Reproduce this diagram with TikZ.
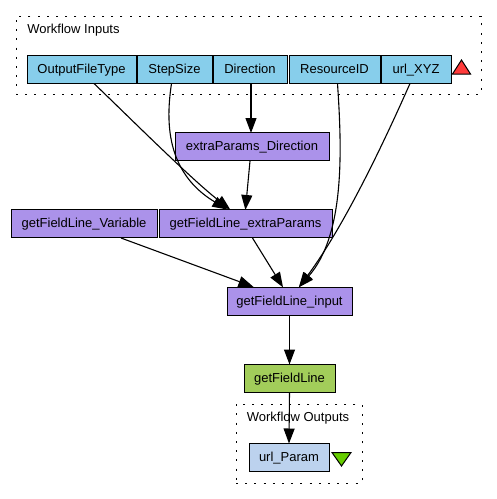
\documentclass[tikz,border=0pt]{standalone}
\usepackage{fontspec}
\setmainfont{Liberation Sans}
\usetikzlibrary{arrows.meta}
\definecolor{inputblue}{HTML}{87CEEB}
\definecolor{procpurple}{HTML}{AB92EA}
\definecolor{procgreen}{HTML}{A2CD5A}
\definecolor{outputblue}{HTML}{BCD2EE}
\definecolor{trired}{HTML}{FF3B3B}
\definecolor{trigreen}{HTML}{66CD00}
\begin{document}
\begin{tikzpicture}[x=1pt,y=-1pt]
    % Define style for boxes
    \tikzstyle{box} = [draw, rectangle, line width=1pt, inner sep=0pt, minimum height=28pt, text height=11.6pt, text depth=3pt, font=\fontsize{13}{15}\selectfont]
    \tikzstyle{inputbox} = [box, fill=inputblue]
    \tikzstyle{procbox} = [box, fill=procpurple]
    \tikzstyle{cluster} = [draw, rectangle, line width=1pt, inner sep=0pt, dash pattern=on 2pt off 7.2pt]
    \tikzstyle{title} = [inner sep=0pt, text height=11.6pt, text depth=3pt, font=\fontsize{13}{15}\selectfont]
    \tikzstyle{flow} = [black, line width=1.1pt, -{Triangle[length=15pt,width=11pt]}, shorten >=-1pt]
    \tikzstyle{tri} = [draw, line width=1pt, line join=miter]
    \useasboundingbox (0,0) rectangle (497,499);

    % Draw the clusters
    \node(inputs)[cluster, minimum width=465pt, minimum height=78pt] at (248.5,55) {};
    \node(outputs)[cluster, minimum width=126pt, minimum height=79pt] at (299,443.5) {};
    \node(inputstitle)[title] at (73.5,29) {Workflow Inputs};
    \node(outputstitle)[title] at (298,417) {Workflow Outputs};

    % Draw the input row
    \foreach \name/\cx/\w/\ctitle in {OutputFileType/81.5/109/OutputFileType,StepSize/174.5/75/StepSize,Direction/250/74/Direction,ResourceID/334.5/91/ResourceID,urlXYZ/416/70/url\_XYZ} {
        \node(\name)[inputbox, minimum width=\w pt] at (\cx,69) {\ctitle};
      }

    % Draw the processors
    \node(extraDirection)[procbox, minimum width=154pt] at (252,146.5) {extraParams\_Direction};
    \node(lineVariable)[procbox, minimum width=146pt] at (84,223.5) {getFieldLine\_Variable};
    \node(lineExtra)[procbox, minimum width=173pt] at (245.5,223.5) {getFieldLine\_extraParams};
    \node(lineInput)[procbox, minimum width=125pt] at (289.5,301) {getFieldLine\_input};
    \node(fieldLine)[box, fill=procgreen, minimum width=91pt] at (289.5,378) {getFieldLine};
    \node(urlParam)[box, fill=outputblue, minimum width=80pt] at (289,457) {url\_Param};

    % Draw the triangles
    \draw[tri, fill=trired] (452.5,74) -- (461.5,60) -- (470.5,74) -- cycle;
    \draw[tri, fill=trigreen] (332,452.5) -- (351,452.5) -- (341.5,466) -- cycle;

    % Draw the connections
    \draw[flow] ([xshift=12.5pt]OutputFileType.south) .. controls (130,118) and (190,178) .. ([xshift=-16pt]lineExtra.north);
    \draw[flow] ([xshift=-3pt]StepSize.south) .. controls (166,120) and (165,172) .. ([xshift=-19pt]lineExtra.north);
    \draw[flow] ([xshift=1pt]Direction.south) -- ([xshift=-1pt]extraDirection.north);
    \draw[flow] ([xshift=-2pt]extraDirection.south) -- (lineExtra.north);
    \draw[flow] ([xshift=3pt]ResourceID.south) .. controls (342,150) and (345,235) .. ([xshift=10pt]lineInput.north);
    \draw[flow] ([xshift=-6pt]urlXYZ.south) .. controls (385,140) and (345,225) .. ([xshift=10pt]lineInput.north);
    \draw[flow] ([xshift=7pt]lineExtra.south) -- ([xshift=-7pt]lineInput.north);
    \draw[flow] ([xshift=37pt]lineVariable.south) -- ([xshift=-37pt]lineInput.north);
    \draw[flow] (lineInput.south) -- (fieldLine.north);
    \draw[flow] (fieldLine.south) -- (urlParam.north);
  \end{tikzpicture}
\end{document}
